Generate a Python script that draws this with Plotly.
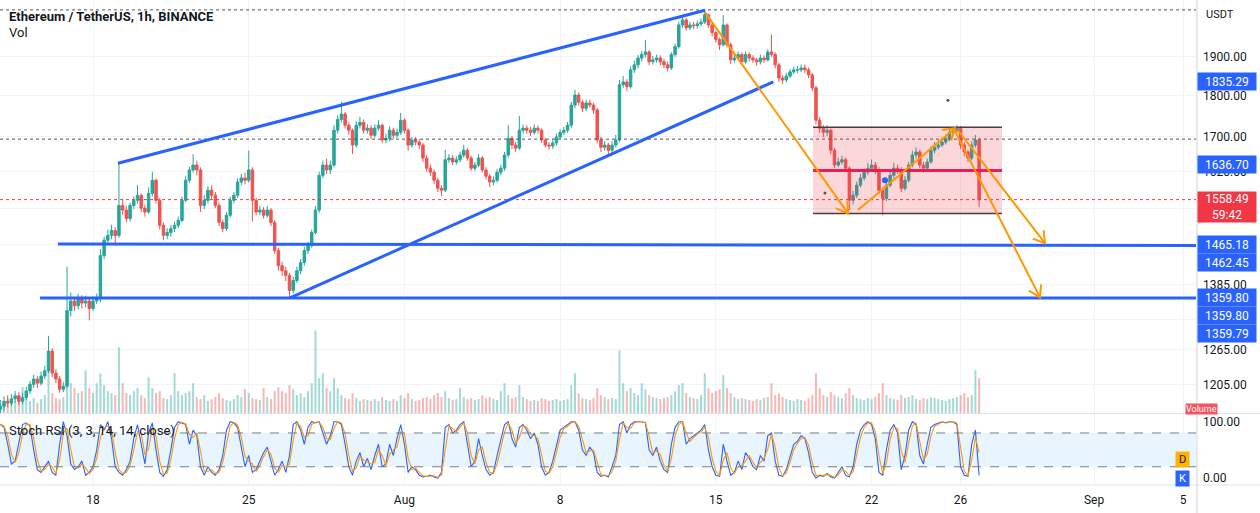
import math
import pandas as pd
import plotly.graph_objects as go

# ---------------- data (4h candles) ----------------
START = "2022-07-13 20:00"
FIRST_OPEN = 1165

close = [1170,1178,1175,1182,1187,1178,1184,1195,1206,1215,
         1208,1220,1229,1263,1225,1215,1198,1203,1336,1354,
         1345,1358,1350,1354,1340,1354,1358,1442,1473,1483,
         1493,1483,1546,1536,1518,1546,1557,1568,1540,1532,
         1572,1601,1557,1504,1483,1489,1497,1504,1514,1557,
         1601,1624,1635,1624,1546,1557,1579,1568,1546,1510,
         1497,1525,1557,1568,1597,1606,1601,1624,1557,1532,
         1536,1525,1536,1510,1452,1422,1412,1403,1374,1393,
         1412,1428,1452,1462,1489,1536,1612,1635,1624,1635,
         1716,1742,1755,1728,1716,1681,1728,1735,1716,1721,
         1704,1721,1728,1693,1697,1716,1704,1711,1740,1716,
         1681,1693,1688,1681,1651,1628,1619,1601,1583,1579,
         1647,1651,1642,1647,1658,1669,1651,1628,1635,1651,
         1624,1610,1597,1601,1619,1628,1658,1697,1681,1674,
         1716,1721,1716,1711,1721,1716,1693,1681,1679,1686,
         1700,1711,1716,1728,1777,1802,1784,1769,1782,1777,
         1765,1693,1676,1681,1669,1681,1693,1828,1835,1823,
         1866,1879,1897,1906,1913,1887,1892,1897,1887,1879,
         1871,1906,1927,1986,2000,1978,1986,1984,1989,1994,
         2014,1986,1965,1946,1932,1986,1932,1892,1897,1906,
         1887,1906,1897,1892,1887,1897,1892,1913,1906,1879,
         1845,1840,1850,1861,1866,1866,1871,1866,1853,1820,
         1740,1721,1711,1716,1669,1635,1642,1647,1628,1557,
         1568,1590,1606,1619,1628,1635,1624,1579,1561,1590,
         1612,1628,1624,1583,1601,1635,1658,1665,1635,1628,
         1642,1669,1676,1681,1688,1697,1711,1716,1721,1681,
         1665,1651,1681,1693,1558.49]

high = [1180,1186,1188,1190,1195,1193,1192,1202,1212,1222,
        1220,1228,1238,1290,1268,1232,1220,1210,1420,1370,
        1362,1368,1365,1364,1358,1362,1368,1455,1480,1495,
        1505,1500,1640,1560,1545,1552,1565,1590,1572,1548,
        1585,1620,1605,1562,1510,1498,1505,1512,1522,1565,
        1610,1632,1660,1645,1630,1568,1588,1590,1575,1552,
        1515,1532,1565,1575,1605,1615,1618,1668,1630,1562,
        1545,1542,1545,1540,1515,1458,1430,1420,1408,1400,
        1420,1435,1460,1470,1495,1545,1620,1645,1650,1645,
        1728,1752,1785,1760,1735,1720,1738,1748,1742,1730,
        1728,1730,1740,1732,1708,1725,1722,1720,1758,1745,
        1720,1700,1700,1695,1686,1658,1636,1625,1606,1590,
        1670,1660,1658,1655,1666,1682,1674,1656,1642,1660,
        1656,1630,1615,1610,1626,1636,1665,1728,1702,1688,
        1750,1730,1728,1724,1730,1728,1720,1698,1688,1694,
        1708,1718,1724,1736,1785,1815,1808,1790,1790,1790,
        1782,1770,1700,1690,1686,1690,1705,1840,1850,1842,
        1875,1890,1905,1915,1945,1918,1902,1906,1904,1895,
        1888,1912,1935,1995,2014,2005,1995,1994,1998,2004,
        2030,2018,1990,1970,1952,2014,1990,1938,1908,1915,
        1912,1914,1912,1904,1898,1906,1904,1920,1960,1912,
        1884,1852,1858,1868,1874,1876,1880,1880,1872,1858,
        1825,1748,1728,1728,1720,1674,1652,1656,1652,1632,
        1578,1598,1615,1628,1640,1648,1642,1630,1585,1598,
        1620,1640,1636,1630,1610,1642,1668,1676,1670,1642,
        1650,1678,1688,1692,1698,1706,1718,1724,1728,1726,
        1688,1670,1690,1705,1698]

low = [1155,1163,1168,1170,1176,1172,1173,1180,1190,1200,
       1200,1204,1215,1225,1218,1208,1192,1193,1200,1325,
       1335,1338,1340,1342,1318,1335,1348,1352,1435,1465,
       1475,1462,1478,1525,1510,1512,1538,1550,1532,1522,
       1528,1565,1550,1495,1473,1475,1480,1490,1498,1510,
       1552,1595,1618,1612,1532,1538,1550,1560,1540,1502,
       1490,1492,1520,1550,1562,1590,1592,1596,1512,1525,
       1525,1518,1520,1502,1445,1412,1402,1392,1360,1368,
       1388,1405,1422,1445,1458,1485,1530,1605,1615,1615,
       1630,1708,1735,1720,1705,1660,1675,1720,1708,1708,
       1695,1698,1715,1685,1686,1690,1696,1698,1705,1708,
       1668,1675,1680,1672,1642,1620,1610,1592,1575,1566,
       1575,1640,1635,1636,1642,1652,1645,1622,1622,1630,
       1618,1603,1586,1590,1596,1612,1622,1652,1672,1665,
       1670,1708,1708,1702,1705,1708,1686,1675,1670,1672,
       1680,1695,1705,1710,1722,1770,1776,1760,1762,1770,
       1755,1685,1665,1668,1655,1662,1675,1688,1820,1812,
       1818,1858,1870,1888,1898,1878,1880,1885,1878,1870,
       1862,1866,1900,1922,1978,1970,1972,1975,1976,1982,
       1988,1978,1955,1938,1918,1928,1925,1882,1885,1890,
       1878,1882,1888,1884,1876,1880,1884,1888,1900,1870,
       1835,1830,1834,1845,1855,1858,1860,1858,1845,1812,
       1730,1710,1700,1702,1660,1628,1630,1636,1620,1536,
       1548,1562,1585,1600,1612,1620,1615,1570,1525,1555,
       1585,1605,1615,1575,1578,1596,1630,1650,1628,1618,
       1622,1638,1662,1670,1676,1682,1690,1705,1710,1672,
       1655,1642,1646,1675,1542]

# volume, in 10k ETH per bar
volume = [10,12,15,10,12,18,26,14,12,15,10,14,18,46,20,15,14,16,
          43,30,25,20,22,43,25,20,30,40,28,22,20,18,
          66,30,20,18,22,25,18,15,36,25,20,22,15,14,18,40,22,18,20,22,30,
          16,14,18,12,14,16,20,15,13,12,14,18,16,24,20,15,14,13,25,16,
          14,22,26,22,20,28,24,18,20,16,22,30,83,35,40,25,22,35,
          25,18,15,14,20,15,12,14,13,12,
          14,12,16,13,12,14,12,18,15,20,
          14,12,13,15,16,14,18,20,16,22,
          15,13,14,25,16,14,15,13,14,18,
          15,16,14,13,22,30,18,15,16,28,
          16,14,12,13,12,15,14,12,13,14,
          12,13,14,28,40,20,15,14,13,15,
          25,18,16,14,15,14,63,30,22,25,
          20,18,30,24,18,16,15,14,15,16,
          18,22,28,30,20,16,15,14,18,40,
          25,20,22,24,38,25,20,16,14,15,
          14,13,12,14,13,15,16,30,18,20,
          16,14,13,12,14,13,12,15,18,40,
          25,18,16,21,18,16,15,20,25,18,
          15,14,13,15,14,16,20,30,18,15,
          14,13,18,15,16,18,14,13,15,14,
          16,15,14,13,12,14,15,16,18,20,
          16,18,43,35]

stoch_k = [95,90,60,25,30,60,95,98,92,50,
           15,10,20,30,10,5,60,100,75,25,
           15,20,30,5,10,20,50,95,85,100,
           70,20,10,5,15,30,70,95,60,25,
           80,98,50,10,3,15,50,90,100,98,
           95,60,85,75,20,5,20,10,5,15,
           40,85,100,98,90,55,20,40,10,15,
           30,45,55,30,5,15,30,10,40,95,
           100,
           85,60,90,100,98,100,80,60,75,100,
           100,95,60,20,5,30,45,20,35,15,
           40,60,20,25,60,40,70,95,60,10,
           20,15,5,2,3,5,2,0,10,90,
           95,80,85,95,100,60,20,30,70,40,
           15,5,10,40,70,95,100,70,55,90,
           95,85,70,80,60,20,5,10,30,60,
           85,90,95,100,100,85,50,40,55,45,
           10,3,5,2,20,40,95,100,80,95,
           100,100,100,98,50,40,55,30,15,10,
           60,90,100,100,60,70,75,80,85,95,
           50,20,5,3,60,30,5,10,30,15,
           45,35,20,15,40,30,75,80,30,5,
           3,15,40,60,65,75,70,45,10,0,
           5,3,8,2,0,10,20,5,2,20,
           60,85,95,100,95,70,10,5,50,85,
           95,80,15,40,85,100,95,40,25,60,
           90,95,98,100,98,100,100,95,20,5,
           3,60,85,5]

stoch_d = [96,92,75,42,28,45,78,96,95,71,
           32,12,15,25,20,8,32,80,88,50,
           20,18,25,18,8,15,35,72,90,92,
           85,45,15,8,10,22,50,82,78,42,
           52,89,74,30,7,9,32,70,95,99,
           96,78,72,80,48,12,12,15,8,10,
           28,62,92,99,94,72,38,30,25,12,
           22,38,50,42,18,10,22,20,25,68,
           98,
           92,72,75,95,99,99,90,70,68,88,
           100,98,78,40,12,18,38,32,28,25,
           28,50,40,22,42,50,55,82,78,35,
           15,18,10,4,3,4,4,1,5,50,
           92,88,82,90,98,80,40,25,50,55,
           28,10,8,25,55,82,98,85,62,72,
           92,90,78,75,70,40,12,8,20,45,
           72,88,92,98,100,92,68,45,48,50,
           28,6,4,4,11,30,68,98,90,88,
           98,100,100,99,74,45,48,42,22,12,
           35,75,95,100,80,65,72,78,82,90,
           72,35,12,4,32,45,18,8,20,22,
           30,40,28,18,28,35,52,78,55,18,
           4,9,28,50,62,70,72,58,28,5,
           3,4,6,5,1,5,15,12,4,11,
           40,72,90,98,98,82,40,8,28,68,
           90,88,48,28,62,92,98,68,32,42,
           75,92,96,99,99,99,100,98,58,12,
           4,32,72,45]

# axis ticks
date_ticks = ["2022-07-18", "2022-07-25", "2022-08-01", "2022-08-08", "2022-08-15",
              "2022-08-22", "2022-08-26", "2022-09-01", "2022-09-05"]
date_ticktext = ["18", "25", "Aug", "8", "15", "22", "26", "Sep", "5"]
price_ticks = [1205, 1265, 1320, 1385, 1465, 1540, 1620, 1700, 1800, 1900]
price_ticktext = ["1205.00", "1265.00", "", "1385.00", "", "", "1620.00", "1700.00", "1800.00", "1900.00"]

# drawings (time, price)
upper_trend = [("2022-07-19 03:00", 1639), ("2022-08-14 12:20", 2027)]
lower_trend = [("2022-07-26 20:30", 1359.79), ("2022-08-17 14:00", 1835.29)]
hline_1465 = [("2022-07-16 10:10", 1465.18), ("2022-09-07 00:00", 1462.45)]
hline_1359 = [("2022-07-15 14:50", 1359.80), ("2022-09-07 00:00", 1359.80)]
box_t = ("2022-08-19 08:50", "2022-08-27 20:40")
box_p = (1529, 1723)
box_mid = 1623
arrows = [
    (("2022-08-14 12:20", 2021), ("2022-08-20 22:40", 1529)),
    (("2022-08-21 09:20", 1536), ("2022-08-25 18:00", 1721)),
    (("2022-08-25 21:10", 1716), ("2022-08-29 19:00", 1467)),
    (("2022-08-25 17:00", 1718), ("2022-08-29 13:40", 1361)),
]
dotted_levels = [2028, 1695]
last_price = 1558.49

# ---------------- figure ----------------
FONT = "Roboto"
X0 = pd.Timestamp("2022-07-13 19:40")
X1 = pd.Timestamp("2022-09-05 14:00")
PMIN, PMAX = 1159.0, 2056.0
W_PX, H_PX = 1196.0, 413.0
PRICE_DOM = [0.14845, 1.0]
STOCH_DOM = [0.0, 0.1464]

times = pd.date_range(START, periods=len(close), freq="4h")
opens = [FIRST_OPEN] + close[:-1]
up = [c >= o for o, c in zip(opens, close)]

BLUE = "#2962FF"
ORANGE = "#FF9800"
GREEN = "#26a69a"
RED = "#ef5350"

fig = go.Figure()

# volume (base axis y, beneath candles)
fig.add_trace(go.Bar(
    x=times, y=volume, xaxis="x", yaxis="y",
    marker=dict(color=["rgba(38,166,154,0.42)" if u else "rgba(239,83,80,0.42)" for u in up],
                line=dict(width=0)),
    width=4 * 3600 * 1000 * 0.55, hoverinfo="skip"))

# candles
fig.add_trace(go.Candlestick(
    x=times, open=opens, high=high, low=low, close=close, xaxis="x", yaxis="y2",
    increasing=dict(line=dict(color=GREEN, width=1), fillcolor=GREEN),
    decreasing=dict(line=dict(color=RED, width=1), fillcolor=RED),
    whiskerwidth=0, hoverinfo="skip"))


def line(pts, color, width=1, dash="solid", yaxis="y2"):
    fig.add_trace(go.Scatter(
        x=[p[0] for p in pts], y=[p[1] for p in pts], mode="lines", xaxis="x", yaxis=yaxis,
        line=dict(color=color, width=width, dash=dash), hoverinfo="skip"))


# dotted level lines
for lv in dotted_levels:
    line([(X0, lv), (X1, lv)], "#50535E", 1, "dot")
line([(X0, last_price), (X1, last_price)], "#F23645", 1, "dot")

# rectangle
fig.add_trace(go.Scatter(
    x=[box_t[0], box_t[1], box_t[1], box_t[0], box_t[0]],
    y=[box_p[0], box_p[0], box_p[1], box_p[1], box_p[0]],
    mode="lines", fill="toself", fillcolor="rgba(242,54,69,0.2)",
    line=dict(width=0), xaxis="x", yaxis="y2", hoverinfo="skip"))
line([(box_t[0], box_p[1]), (box_t[1], box_p[1])], "#4A3B3D", 1.5)
line([(box_t[0], box_p[0]), (box_t[1], box_p[0])], "#4A3B3D", 1.5)
line([(box_t[0], box_mid), (box_t[1], box_mid)], "#EC1C5A", 3)

# blue lines
line(upper_trend, BLUE, 3)
line(lower_trend, BLUE, 3)
line(hline_1465, BLUE, 3)
line(hline_1359, BLUE, 3)

# pixel helpers for arrow heads
LMIN, LMAX = math.log10(PMIN), math.log10(PMAX)
SPAN = (X1 - X0).total_seconds()


def to_px(t, p):
    t = pd.Timestamp(t)
    return ((t - X0).total_seconds() / SPAN * W_PX,
            (LMAX - math.log10(p)) / (LMAX - LMIN) * H_PX)


def from_px(x, y):
    return (X0 + pd.Timedelta(seconds=x / W_PX * SPAN),
            10 ** (LMAX - y / H_PX * (LMAX - LMIN)))


for s, e in arrows:
    line([s, e], ORANGE, 2)
    sx, sy = to_px(*s)
    ex, ey = to_px(*e)
    n = math.hypot(ex - sx, ey - sy)
    bx, by = -(ex - sx) / n, -(ey - sy) / n
    arms = []
    for a in (math.radians(32), -math.radians(32)):
        rx = bx * math.cos(a) - by * math.sin(a)
        ry = bx * math.sin(a) + by * math.cos(a)
        arms.append(from_px(ex + 13 * rx, ey + 13 * ry))
    line([arms[0], from_px(ex, ey), arms[1]], ORANGE, 2)

# dots
fig.add_trace(go.Scatter(x=["2022-08-22 14:30"], y=[1601], mode="markers", xaxis="x", yaxis="y2",
                         marker=dict(color=BLUE, size=6), hoverinfo="skip"))
fig.add_trace(go.Scatter(x=["2022-08-25 10:20", "2022-08-19 21:40"], y=[1789, 1573], mode="markers",
                         xaxis="x", yaxis="y2", marker=dict(color="#555", size=3), hoverinfo="skip"))

# stoch RSI pane
fig.add_shape(type="rect", xref="paper", x0=0, x1=1, yref="y3", y0=20, y1=80,
              fillcolor="rgba(33,150,243,0.1)", line=dict(width=0), layer="below")
for lv in (20, 80):
    fig.add_shape(type="line", xref="paper", x0=0, x1=1, yref="y3", y0=lv, y1=lv,
                  line=dict(color="#787B86", width=1, dash="dash"))
fig.add_trace(go.Scatter(x=times, y=stoch_k, mode="lines", xaxis="x", yaxis="y3",
                         line=dict(color=BLUE, width=1.1), hoverinfo="skip"))
fig.add_trace(go.Scatter(x=times, y=stoch_d, mode="lines", xaxis="x", yaxis="y3",
                         line=dict(color="#FF9800", width=1.1), hoverinfo="skip"))

# separators
RIGHT = 1260 / 1196
fig.add_shape(type="line", xref="paper", yref="paper", x0=0, x1=RIGHT, y0=PRICE_DOM[0] - 0.001,
              y1=PRICE_DOM[0] - 0.001, line=dict(color="#E0E3EB", width=1))
fig.add_shape(type="line", xref="paper", yref="paper", x0=0, x1=RIGHT, y0=0, y1=0,
              line=dict(color="#E0E3EB", width=1))
fig.add_shape(type="line", xref="paper", yref="paper", x0=1.0008, x1=1.0008, y0=-0.06, y1=1,
              line=dict(color="#D1D4DC", width=1))

ann = []


def tag(text, price, bg, shift=0, fg="white"):
    ann.append(dict(xref="paper", x=1, xanchor="left", xshift=1, yref="y2", y=math.log10(price),
                    yanchor="middle", yshift=shift, text=text, showarrow=False, bgcolor=bg,
                    width=56, height=15, borderpad=1, align="center",
                    font=dict(color=fg, size=12, family=FONT)))


tag("1835.29", 1835.29, BLUE)
tag("1636.70", 1636.70, BLUE)
tag("1465.18", 1465.18, BLUE)
tag("1462.45", 1462.45, BLUE, shift=-17)
tag("1359.80", 1359.80, BLUE)
tag("1359.80", 1359.80, BLUE, shift=-18)
tag("1359.79", 1359.79, BLUE, shift=-36)
ann.append(dict(xref="paper", x=1, xanchor="left", xshift=1, yref="y2", y=math.log10(last_price),
                yanchor="top", yshift=9, text="1558.49<br>59:42", showarrow=False, bgcolor="#F23645",
                width=56, height=28, borderpad=1, align="center",
                font=dict(color="white", size=12, family=FONT)))
ann.append(dict(xref="paper", x=1, xanchor="left", xshift=8, yref="paper", y=1 - 14 / 485,
                yanchor="middle", text="USDT", showarrow=False,
                font=dict(size=11, family=FONT, color="#131722")))
ann.append(dict(xref="paper", x=0, xanchor="left", xshift=7, yref="paper", y=1 - 17 / 485,
                yanchor="middle", text="<b>Ethereum / TetherUS, 1h, BINANCE</b>", showarrow=False,
                font=dict(size=13, family=FONT, color="#131722")))
ann.append(dict(xref="paper", x=0, xanchor="left", xshift=7, yref="paper", y=1 - 33 / 485,
                yanchor="middle", text="Vol", showarrow=False,
                font=dict(size=13, family=FONT, color="#131722")))
ann.append(dict(xref="paper", x=0, xanchor="left", xshift=7, yref="paper", y=(485 - 430) / 485,
                yanchor="middle", text="Stoch RSI (3, 3, 14, 14, close)", showarrow=False,
                font=dict(size=13, family=FONT, color="#131722")))
ann.append(dict(xref="paper", x=1, xanchor="right", xshift=22, yref="paper", y=(485 - 409) / 485,
                yanchor="middle", text="Volume", showarrow=False, bgcolor="#F7525F", borderpad=0,
                height=10, font=dict(size=9, family=FONT, color="white")))
ann.append(dict(xref="paper", x=1, xanchor="right", xshift=-6, yref="y3", y=32, yanchor="middle",
                text="D", showarrow=False, bgcolor="#FFB300", width=13, height=15, borderpad=0,
                font=dict(size=11, family=FONT, color="#131722")))
ann.append(dict(xref="paper", x=1, xanchor="right", xshift=-6, yref="y3", y=0, yanchor="middle",
                text="K", showarrow=False, bgcolor=BLUE, width=13, height=15, borderpad=0,
                font=dict(size=11, family=FONT, color="white")))

GRID = "#F0F3FA"
fig.update_layout(
    width=1260, height=513, margin=dict(l=0, r=64, t=0, b=28),
    paper_bgcolor="white", plot_bgcolor="white", showlegend=False, boxgap=0.05,
    font=dict(family=FONT, size=12, color="#131722"),
    annotations=ann,
    xaxis=dict(type="date", range=[X0, X1], anchor="y3", domain=[0, 1],
               tickvals=date_ticks, ticktext=date_ticktext, ticks="", showgrid=True,
               gridcolor=GRID, zeroline=False, showline=False, rangeslider=dict(visible=False),
               ticklabelstandoff=6, tickfont=dict(size=12, color="#131722")),
    yaxis=dict(domain=PRICE_DOM, range=[0, max(volume) * 5], visible=False, fixedrange=True),
    yaxis2=dict(type="log", overlaying="y", side="right", anchor="x",
                range=[LMIN, LMAX], tickvals=price_ticks, ticktext=price_ticktext,
                ticks="", showgrid=True, gridcolor=GRID, zeroline=False, showline=False,
                ticklabelstandoff=6, tickfont=dict(size=12, color="#131722")),
    yaxis3=dict(domain=STOCH_DOM, range=[-12.4, 113.7], side="right", anchor="x",
                tickvals=[0, 100], ticktext=["0.00", "100.00"], ticks="", showgrid=False,
                zeroline=False, showline=False, ticklabelstandoff=6,
                tickfont=dict(size=12, color="#131722")),
)

fig.write_html("out.html")
